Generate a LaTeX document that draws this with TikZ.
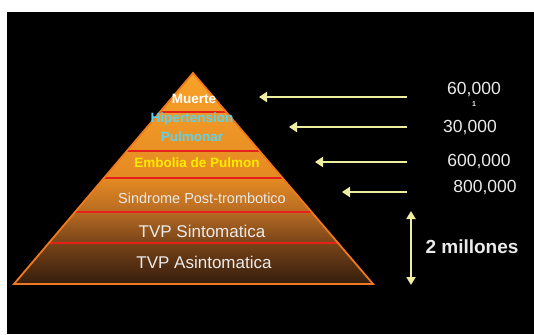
\documentclass[tikz,border=0pt]{standalone}
\usepackage{fontspec}
\setmainfont{Liberation Sans}
\usetikzlibrary{arrows.meta,calc}
\definecolor{pyrtop}{RGB}{248,162,40}
\definecolor{pyrmid}{RGB}{228,138,35}
\definecolor{pyrlow}{RGB}{182,106,34}
\definecolor{pyrdark}{RGB}{120,68,24}
\definecolor{pyrbot}{RGB}{52,28,12}
\definecolor{edgeorange}{RGB}{240,120,30}
\definecolor{sepred}{RGB}{232,32,28}
\definecolor{hypcyan}{RGB}{95,210,235}
\definecolor{emboyellow}{RGB}{255,235,0}
\definecolor{arrowyellow}{RGB}{238,238,160}
\definecolor{numgray}{RGB}{235,235,235}
\pgfdeclareverticalshading{pyrshade}{100bp}{color(0bp)=(pyrbot); color(25bp)=(pyrbot); color(34.7bp)=(pyrdark); color(42bp)=(pyrlow); color(50bp)=(pyrmid); color(75bp)=(pyrtop); color(100bp)=(pyrtop)}
\tikzset{
  sepline/.style={draw=sepred, line width=1.4pt},
  lvlbold/.style={font=\bfseries\fontsize{13.5}{15}\selectfont, inner sep=0pt},
  lvlplain/.style={text=numgray, font=\fontsize{14.5}{16}\selectfont, inner sep=0pt},
  lvlbig/.style={text=numgray, font=\fontsize{17}{19}\selectfont, inner sep=0pt},
  numtext/.style={text=numgray, font=\fontsize{17.5}{19}\selectfont, inner sep=0pt},
  yarrow/.style={draw=arrowyellow, line width=2.8pt, -{Triangle[length=8pt,width=10pt]}},
  ydarrow/.style={draw=arrowyellow, line width=2.5pt, {Triangle[length=8pt,width=9pt]}-{Triangle[length=8pt,width=9pt]}}
}
\begin{document}
\begin{tikzpicture}[x=1pt,y=-1pt]
\useasboundingbox (0,0) rectangle (534,334);
\fill[white] (0,0) rectangle (534,334);
\fill[black] (7,12) rectangle (534,334);
% pyramid
\coordinate (apex) at (193,73);
\coordinate (bl) at (14,284);
\coordinate (br) at (373,284);
\shade[shading=pyrshade] (apex) -- (br) -- (bl) -- cycle;
% separators
\foreach \f/\n in {0.1848/a,0.3697/b,0.4976/c,0.6588/d,0.8057/e}{
  \coordinate (L\n) at ($(apex)!\f!(bl)$);
  \coordinate (R\n) at ($(apex)!\f!(br)$);
  \draw[sepline] (L\n) -- (R\n);
}
\draw[draw=edgeorange, line width=1.8pt, line join=miter] (apex) -- (br) -- (bl) -- cycle;
% level labels
\node[lvlbold, text=white] (muerte) at (194,99) {Muerte};
\node[lvlbold, text=hypcyan] (hyp1) at (192,119) {Hipertension};
\node[lvlbold, text=hypcyan] (hyp2) at (192,137) {Pulmonar};
\node[lvlbold, text=emboyellow] (embo) at (197,163) {Embolia de Pulmon};
\node[lvlplain] (sind) at (202,198) {Sindrome Post-trombotico};
\node[lvlbig] (tvps) at (202,231) {TVP Sintomatica};
\node[lvlbig] (tvpa) at (204,262) {TVP Asintomatica};
% numbers
\node[numtext] (n60) at (474,90) {60,000};
\node[text=numgray, font=\fontsize{7}{8}\selectfont\bfseries, inner sep=0pt] (n1) at (474,104) {1};
\node[numtext] (n30) at (470,128) {30,000};
\node[numtext] (n600) at (479,162) {600,000};
\node[numtext] (n800) at (485,188) {800,000};
\node[text=numgray, font=\bfseries\fontsize{19}{21}\selectfont, inner sep=0pt] (mill) at (472,247) {2 millones};
% arrows
\coordinate (s1) at (407,97);  \coordinate (t1) at (259,97);
\coordinate (s2) at (407,127); \coordinate (t2) at (289,127);
\coordinate (s3) at (407,162); \coordinate (t3) at (315,162);
\coordinate (s4) at (407,192); \coordinate (t4) at (342,192);
\draw[yarrow] (s1) -- (t1);
\draw[yarrow] (s2) -- (t2);
\draw[yarrow] (s3) -- (t3);
\draw[yarrow] (s4) -- (t4);
\coordinate (dtop) at (411,211);
\coordinate (dbot) at (411,285);
\draw[ydarrow] (dtop) -- (dbot);
\end{tikzpicture}
\end{document}
